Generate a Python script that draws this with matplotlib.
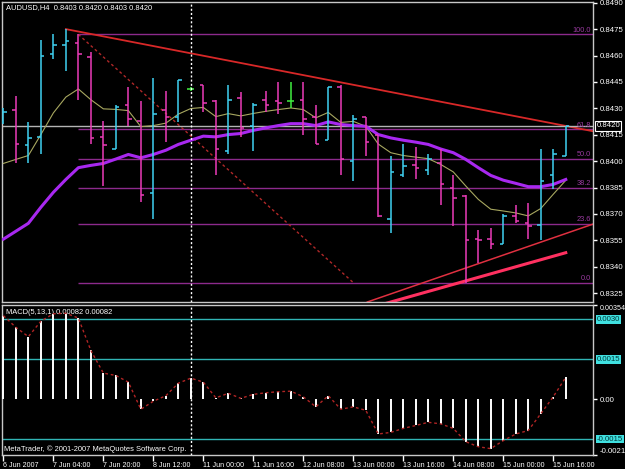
import matplotlib
matplotlib.use("Agg")
import matplotlib.pyplot as plt
import matplotlib.transforms as mtransforms
import numpy as np

# AUDUSD H4 bars
opens = [0.8422, 0.8429, 0.8409, 0.8414, 0.8461, 0.8466, 0.8467, 0.8459, 0.8414, 0.8407,
         0.8432, 0.8423, 0.8382, 0.8429, 0.8425, 0.8441, 0.8443, 0.8434, 0.8406, 0.8436,
         0.8420, 0.8435, 0.8434, 0.8434, 0.8435, 0.8425, 0.8412, 0.8442, 0.8400, 0.8425,
         0.8415, 0.8367, 0.8392, 0.8398, 0.8395, 0.8399, 0.8385, 0.8380, 0.8356, 0.8356,
         0.8353, 0.8369, 0.8365, 0.8364, 0.8392, 0.8403]
highs = [0.8430, 0.8437, 0.8422, 0.8469, 0.8472, 0.8475, 0.8472, 0.8462, 0.8423, 0.8432,
         0.8442, 0.8434, 0.8447, 0.8440, 0.8446, 0.8442, 0.8443, 0.8435, 0.8443, 0.8439,
         0.8433, 0.8440, 0.8445, 0.8445, 0.8445, 0.8432, 0.8442, 0.8443, 0.8426, 0.8425,
         0.8415, 0.8403, 0.8410, 0.8408, 0.8404, 0.8407, 0.8392, 0.8381, 0.8361, 0.8362,
         0.8370, 0.8375, 0.8376, 0.8407, 0.8407, 0.8420]
lows = [0.8421, 0.8399, 0.8399, 0.8404, 0.8458, 0.8451, 0.8435, 0.8410, 0.8386, 0.8407,
        0.8420, 0.8377, 0.8367, 0.8411, 0.8422, 0.8440, 0.8428, 0.8392, 0.8404, 0.8414,
        0.8406, 0.8428, 0.8427, 0.8430, 0.8415, 0.8410, 0.8412, 0.8392, 0.8389, 0.8403,
        0.8368, 0.8359, 0.8391, 0.8390, 0.8392, 0.8375, 0.8363, 0.8331, 0.8342, 0.8350,
        0.8353, 0.8365, 0.8356, 0.8355, 0.8384, 0.8403]
closes = [0.8428, 0.8410, 0.8413, 0.8460, 0.8466, 0.8468, 0.8461, 0.8413, 0.8409, 0.8431,
          0.8424, 0.8381, 0.8427, 0.8425, 0.8446, 0.8441, 0.8433, 0.8407, 0.8435, 0.8419,
          0.8432, 0.8432, 0.8433, 0.8434, 0.8424, 0.8410, 0.8442, 0.8401, 0.8424, 0.8411,
          0.8369, 0.8394, 0.8397, 0.8396, 0.8401, 0.8387, 0.8379, 0.8355, 0.8355, 0.8353,
          0.8369, 0.8366, 0.8363, 0.8389, 0.8404, 0.8420]

# moving averages (thin olive one and thick purple one)
ma_fast = [0.83987, 0.84010, 0.84032, 0.84151, 0.84274, 0.84364, 0.84410, 0.84349, 0.84297, 0.84294,
           0.84287, 0.84196, 0.84202, 0.84216, 0.84267, 0.84299, 0.84305, 0.84253, 0.84270, 0.84257,
           0.84271, 0.84283, 0.84293, 0.84302, 0.84293, 0.84246, 0.84277, 0.84220, 0.84226, 0.84198,
           0.84097, 0.84048, 0.84032, 0.84023, 0.84014, 0.83981, 0.83939, 0.83859, 0.83783, 0.83727,
           0.83717, 0.83706, 0.83689, 0.83731, 0.83812, 0.83891]
ma_slow = [0.83557, 0.83602, 0.83647, 0.83738, 0.83823, 0.83896, 0.83963, 0.83976, 0.83987, 0.84012,
           0.84038, 0.84019, 0.84038, 0.84062, 0.84095, 0.84119, 0.84142, 0.84138, 0.84151, 0.84157,
           0.84175, 0.84189, 0.84202, 0.84213, 0.84213, 0.84202, 0.84223, 0.84208, 0.84202, 0.84198,
           0.84151, 0.84132, 0.84119, 0.84108, 0.84095, 0.84069, 0.84048, 0.84010, 0.83963, 0.83919,
           0.83892, 0.83874, 0.83855, 0.83855, 0.83868, 0.83896]

# MACD(5,13,1) main = signal
macd = [0.00314, 0.00270, 0.00235, 0.00293, 0.00321, 0.00323, 0.00305, 0.00183, 0.00098, 0.00089,
        0.00064, -0.00038, -0.00008, 0.00013, 0.00060, 0.00079, 0.00064, 0.00005, 0.00022, 0.00003,
        0.00018, 0.00024, 0.00028, 0.00030, 0.00009, -0.00029, 0.00013, -0.00038, -0.00029, -0.00042,
        -0.00131, -0.00125, -0.00110, -0.00099, -0.00087, -0.00093, -0.00110, -0.00160, -0.00179, -0.00186,
        -0.00156, -0.00131, -0.00118, -0.00055, 0.00009, 0.00082]

time_labels = ["6 Jun 2007", "7 Jun 04:00", "7 Jun 20:00", "8 Jun 12:00", "11 Jun 00:00",
               "11 Jun 16:00", "12 Jun 08:00", "13 Jun 00:00", "13 Jun 16:00", "14 Jun 08:00",
               "15 Jun 00:00", "15 Jun 16:00"]
price_ticks = [0.8490, 0.8475, 0.8460, 0.8445, 0.8430, 0.8415, 0.8400, 0.8385, 0.8370, 0.8355,
               0.8340, 0.8325]
macd_levels = [0.0030, 0.0015, -0.0015]
macd_range = [-0.0021, 0.00354]

# drawn objects
fib_high, fib_low = 0.8472, 0.8331
fib_bars = [6, 28]
fib_ratios = [0.0, 0.236, 0.382, 0.5, 0.618, 1.0]
res_bars, res_prices = [5, 45], [0.8475, 0.8420]
sup_bars, sup_prices = [37, 43], [0.83393, 0.8354]
sup2_bars, sup2_prices = [30, 45], [0.8318, 0.8348]
bid = 0.8420
vline_bar = 15

W, H = 625, 469
fig = plt.figure(figsize=(W / 100, H / 100), dpi=100, facecolor="black")
plt.rcParams["font.family"] = ["Liberation Sans", "DejaVu Sans"]
FS = 5.4     # small MT4-ish font
FS_AX = 5.6


def px_axes(x0, y0, x1, y1):
    a = fig.add_axes([x0 / W, 1 - y1 / H, (x1 - x0) / W, (y1 - y0) / H])
    a.set_facecolor("black")
    for s in a.spines.values():
        s.set_color("#c8c8c8")
        s.set_linewidth(1)
    return a


ax = px_axes(2, 2, 593, 302)
mx = px_axes(2, 305, 593, 455)
xlim = (-0.11, 47.18)
x = np.arange(len(opens))

# ---- price panel ----
ax.set_xlim(*xlim)
ax.set_ylim(0.8320, 0.84904)

o, h, l, c = map(np.array, (opens, highs, lows, closes))
cols = np.where(c > o, "#3fd2f2", np.where(c < o, "#ec3cb8", "#40f040"))
ax.vlines(x, l, h, colors=cols, lw=1.1, zorder=4)
ax.hlines(o, x - 0.27, x, colors=cols, lw=1.1, zorder=4)
ax.hlines(c, x, x + 0.27, colors=cols, lw=1.1, zorder=4)

ax.plot(x, ma_fast, color="#a8a860", lw=0.8, zorder=3)
ax.plot(x, ma_slow, color="#a828f0", lw=2.2, zorder=3)

# fibo levels
ytr = mtransforms.blended_transform_factory(ax.transAxes, ax.transData)
rng = fib_high - fib_low
for r in fib_ratios:
    lev = fib_low + r * rng
    ax.hlines(lev, fib_bars[0], xlim[1], colors="#8c2a8c", lw=1, zorder=2)
    ax.text(0.997, lev + 0.00004, f"{r * 100:.1f}", transform=ytr,
            ha="right", va="bottom", color="#9a3aa0", fontsize=5.3)
ax.plot(fib_bars, [fib_high, fib_low], color="#b02828", lw=1, ls=(0, (2, 2)), zorder=2)

# trend lines
k = (res_prices[1] - res_prices[0]) / (res_bars[1] - res_bars[0])
ax.plot([res_bars[0], xlim[1]], [res_prices[0], res_prices[0] + k * (xlim[1] - res_bars[0])],
        color="#d82828", lw=1.3, zorder=2)
ax.axline((sup_bars[0], sup_prices[0]), (sup_bars[1], sup_prices[1]), color="#e03040", lw=1.1, zorder=2)
ax.plot(sup2_bars, sup2_prices, color="#ff3060", lw=2.2, zorder=2)

ax.axhline(bid, color="#b4b4b4", lw=1, zorder=2)
ax.axvline(vline_bar, color="white", lw=1, ls=(0, (1.5, 1.5)), zorder=5)

ax.set_xticks([])
ax.yaxis.tick_right()
ax.set_yticks(price_ticks)
ax.set_yticklabels([f"{p:.4f}" for p in price_ticks])
ax.tick_params(axis="y", colors="white", length=3, width=1, pad=1.5, labelsize=FS_AX)
ax.text(1.006, bid, f"{bid:.4f}", transform=ytr,
        ha="left", va="center", color="white", fontsize=FS_AX, zorder=6,
        bbox=dict(boxstyle="square,pad=0.15", fc="black", ec="white", lw=0.8))
ax.text(0.006, 0.982, f"AUDUSD,H4  {opens[-1]:.4f} {highs[-1]:.4f} {lows[-1]:.4f} {closes[-1]:.4f}",
        transform=ax.transAxes, color="white", fontsize=FS, ha="left", va="center")

# ---- MACD panel ----
mx.set_xlim(*xlim)
mx.set_ylim(*macd_range)
mx.vlines(x, 0, macd, colors="white", lw=1.4, zorder=3)
mx.plot(x, macd, color="#b02424", lw=1, ls=(0, (2, 2)), zorder=4)
tr = mtransforms.blended_transform_factory(mx.transAxes, mx.transData)
for lev in macd_levels:
    mx.axhline(lev, color="#30b4b4", lw=1, zorder=2)
    mx.text(1.006, lev, f"{lev:.4f}", transform=tr, ha="left", va="center", fontsize=FS_AX,
            color="#003838", bbox=dict(boxstyle="square,pad=0.12", fc="#40e0e0", ec="none"))
mx.axvline(vline_bar, color="white", lw=1, ls=(0, (1.5, 1.5)), zorder=5)

mx.yaxis.tick_right()
mx.set_yticks([macd_range[1], 0, macd_range[0]])
mx.set_yticklabels([f"{macd_range[1]:.5f}", "0.00", f"{macd_range[0]:.4f}"])
mx.tick_params(axis="y", colors="white", length=3, width=1, pad=1.5, labelsize=FS_AX)
lbls = mx.get_yticklabels()
lbls[0].set_va("top")
lbls[0].set_fontsize(5.1)
lbls[2].set_va("bottom")

mx.set_xticks(x[::4])
mx.set_xticklabels(time_labels, ha="left")
mx.tick_params(axis="x", colors="white", length=4, width=1, pad=1, labelsize=5.1)

mx.text(0.006, 0.95, f"MACD(5,13,1) {macd[-1]:.5f} {macd[-1]:.5f}", transform=mx.transAxes,
        color="white", fontsize=FS, ha="left", va="center")
mx.text(0.004, 0.04, "MetaTrader, \u00a9 2001-2007 MetaQuotes Software Corp.", transform=mx.transAxes,
        color="white", fontsize=FS, ha="left", va="center")

fig.savefig("out.png", dpi=100, facecolor="black")
